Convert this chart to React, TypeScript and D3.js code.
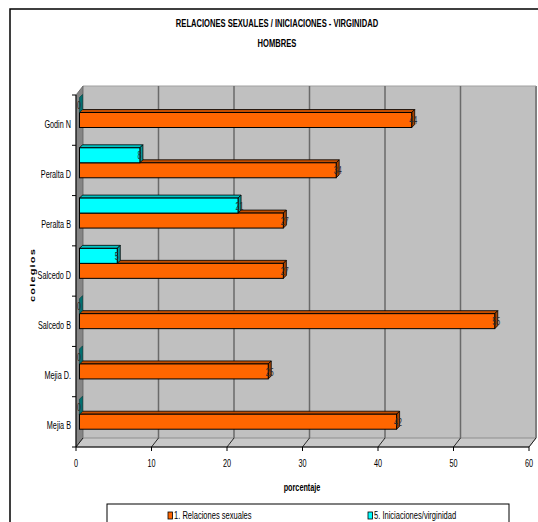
import React from "react";
import * as d3 from "d3";

const categories = ["Godin N", "Peralta D", "Peralta B", "Salcedo D", "Salcedo B", "Mejia D.", "Mejia B"];
const relaciones = [44, 34, 27, 27, 55, 25, 42];
const iniciaciones = [0, 8, 21, 5, 0, 0, 0];
const xTicks = [0, 10, 20, 30, 40, 50, 60];
const seriesNames = ["1. Relaciones sexuales", "5. Iniciaciones/virginidad"];
const titleLines = ["RELACIONES SEXUALES / INICIACIONES - VIRGINIDAD", "HOMBRES"];
const xTitle = "porcentaje";
const yTitle = "colegios";

const FONT = "'Liberation Sans', Arial, sans-serif";
const SX = 0.66;

const W = 538, H = 522;
const left = 76, right = 529, top = 95, bottom = 447;
const DX = 7, DY = -9; // wall depth
const BD = 3; // bar depth

const seriesColors = [
  { front: "#ff6600", top: "#c44e00", side: "#a84300", zero: "#8a3800" },
  { front: "#00ffff", top: "#00c4c4", side: "#009c9c", zero: "#006f6f" },
];

function T(props: any) {
  const { x, y, anchor = "middle", size = 10, bold = false, fill = "#000", sx = SX, children } = props;
  return (
    <text
      transform={`translate(${x},${y}) scale(${sx},1)`}
      textAnchor={anchor}
      dominantBaseline="central"
      fontFamily={FONT}
      fontSize={size}
      fontWeight={bold ? "bold" : "normal"}
      fill={fill}
    >
      {children}
    </text>
  );
}

export default function App() {
  const x = d3.scaleLinear().domain([0, 60]).range([left, right]);
  const y = d3.scaleBand<string>().domain(categories).range([top, bottom]);
  const sub = d3.scaleBand<number>().domain([1, 0]).range([7, 37]);
  const bw = sub.bandwidth();
  const bx0 = 3.5, by0 = -4.5;

  const bar = (si: number, ci: number, v: number) => {
    const c = seriesColors[si];
    const x0 = x(0) + bx0;
    const x1 = x(v) + bx0;
    const y0 = (y(categories[ci]) as number) + (sub(si) as number) + by0;
    const y1 = y0 + bw;
    const topFace = `M${x0},${y0} L${x0 + BD},${y0 - BD} L${x1 + BD},${y0 - BD} L${x1},${y0} Z`;
    const sideFace = `M${x1},${y0} L${x1 + BD},${y0 - BD} L${x1 + BD},${y1 - BD} L${x1},${y1} Z`;
    const label = (
      <T x={x1 - 2.5} y={(y0 + y1) / 2} anchor="start" size={11.5} fill="#2a2a2a" sx={0.62}>
        {v}
      </T>
    );
    if (v === 0) {
      return (
        <g key={`${si}-${ci}`}>
          <path d={sideFace} fill={c.zero} stroke="#004040" strokeWidth={0.6} />
          {label}
        </g>
      );
    }
    return (
      <g key={`${si}-${ci}`}>
        <path d={topFace} fill={c.top} stroke="#000" strokeWidth={0.8} />
        <path d={sideFace} fill={c.side} stroke="#000" strokeWidth={0.8} />
        <rect x={x0} y={y0} width={x1 - x0} height={bw} fill={c.front} stroke="#000" strokeWidth={1} />
        {label}
      </g>
    );
  };

  const bandEdges = categories.map((c) => y(c) as number).concat([bottom]);

  return (
    <svg width={W} height={H} style={{ position: "absolute", left: 0, top: 0, background: "#fff" }}>
      {/* outer frame */}
      <rect x={10} y={9} width={540} height={530} fill="#fff" stroke="#000" strokeWidth={1.5} />
      {/* title */}
      <T x={277} y={23} size={11.5} bold>{titleLines[0]}</T>
      <T x={277} y={42.5} size={11.5} bold>{titleLines[1]}</T>

      {/* back wall */}
      <rect x={left + DX} y={top + DY} width={right - left} height={bottom - top} fill="#c0c0c0" />
      <line x1={right + DX} y1={top + DY} x2={right + DX} y2={bottom + DY} stroke="#808080" strokeWidth={2} />
      <line x1={left + DX} y1={top + DY} x2={right + DX} y2={top + DY} stroke="#a0a0a0" strokeWidth={1} />
      {/* left wall */}
      <path
        d={`M${left},${top} L${left + DX},${top + DY} L${left + DX},${bottom + DY} L${left},${bottom} Z`}
        fill="#858585"
        stroke="#606060"
        strokeWidth={0.8}
      />
      {/* floor */}
      <path
        d={`M${left},${bottom} L${left + DX},${bottom + DY} L${right + DX},${bottom + DY} L${right},${bottom} Z`}
        fill="#c8c8c8"
        stroke="#808080"
        strokeWidth={0.8}
      />
      {/* gridlines */}
      {xTicks.slice(1, -1).map((t) => (
        <line key={`g${t}`} x1={x(t) + DX} y1={top + DY} x2={x(t) + DX} y2={bottom + DY} stroke="#6a6a6a" strokeWidth={1.5} />
      ))}
      {xTicks.map((t) => (
        <line key={`f${t}`} x1={x(t)} y1={bottom} x2={x(t) + DX} y2={bottom + DY} stroke="#000" strokeWidth={0.8} />
      ))}

      {/* bars */}
      {categories.map((c, ci) => (
        <g key={c}>
          {bar(0, ci, relaciones[ci])}
          {bar(1, ci, iniciaciones[ci])}
        </g>
      ))}

      {/* axes */}
      <line x1={left} y1={top} x2={left} y2={bottom} stroke="#000" strokeWidth={1} />
      <line x1={left} y1={bottom} x2={right} y2={bottom} stroke="#000" strokeWidth={1} />
      {bandEdges.map((e, i) => (
        <line key={`yt${i}`} x1={left - 4} y1={e} x2={left} y2={e} stroke="#000" strokeWidth={1} />
      ))}
      {xTicks.map((t) => (
        <line key={`xt${t}`} x1={x(t)} y1={bottom} x2={x(t)} y2={bottom + 4} stroke="#000" strokeWidth={1} />
      ))}
      {categories.map((c) => (
        <T key={`yl${c}`} x={71} y={(y(c) as number) + y.bandwidth() / 2 + 4} anchor="end" size={11}>
          {c}
        </T>
      ))}
      {xTicks.map((t) => (
        <T key={`xl${t}`} x={x(t)} y={463} size={11}>
          {t}
        </T>
      ))}
      <T x={302} y={487} size={11} bold>{xTitle}</T>
      <text
        transform={`translate(32,275) rotate(-90) scale(1,0.7)`}
        textAnchor="middle"
        dominantBaseline="central"
        fontFamily={FONT}
        fontSize={11}
        fontWeight="bold"
        letterSpacing={1.2}
      >
        {yTitle}
      </text>

      {/* legend */}
      <rect x={107} y={504} width={402} height={40} fill="#fff" stroke="#000" strokeWidth={1} />
      {seriesNames.map((s, i) => {
        const lx = i === 0 ? 168 : 368;
        return (
          <g key={s}>
            <rect x={lx} y={512} width={4.5} height={7} fill={seriesColors[i].front} stroke="#000" strokeWidth={0.8} />
            <T x={lx + 6} y={516} anchor="start" size={10.5} sx={0.72}>
              {s}
            </T>
          </g>
        );
      })}
    </svg>
  );
}
